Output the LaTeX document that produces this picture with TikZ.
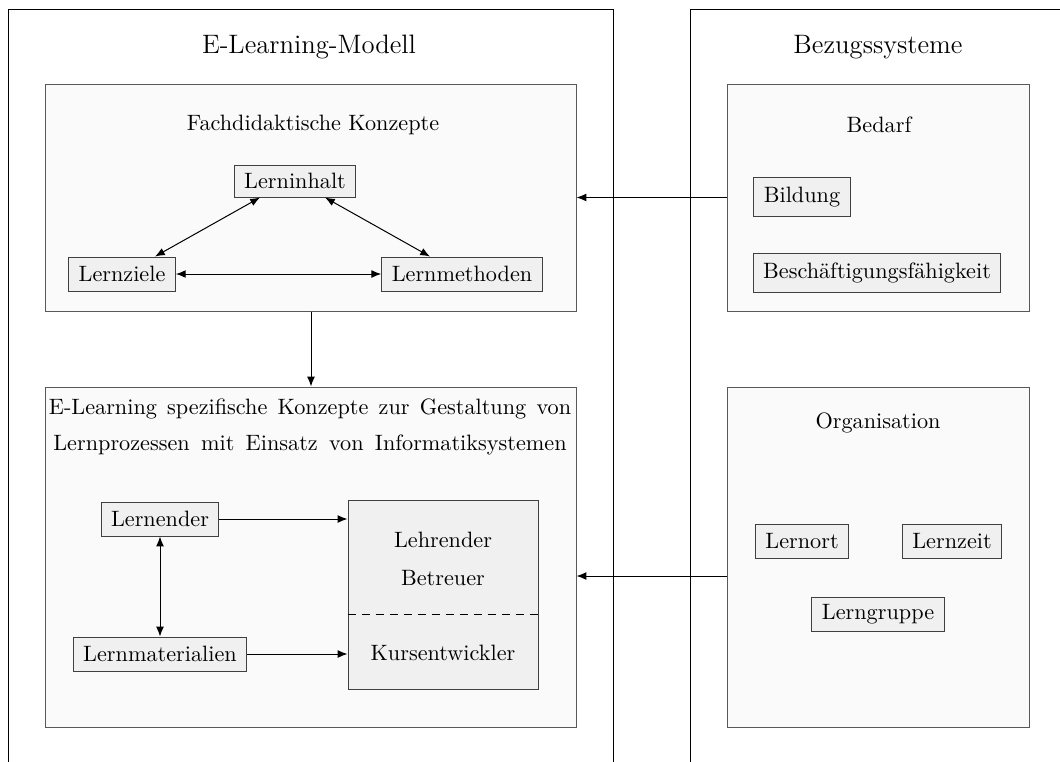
\documentclass[tikz,border=0pt]{standalone}
\usepackage{fontspec}
\usetikzlibrary{arrows.meta,calc}

\tikzset{
  frame/.style={draw=black, line width=0.45pt},
  panel/.style={draw=black!65, fill=black!2, line width=0.45pt},
  item/.style={draw=black!75, fill=black!6, line width=0.45pt,
    inner xsep=4.5pt, inner ysep=0pt, minimum height=15.3pt},
  tallitem/.style={item, minimum height=17.6pt},
  heading/.style={font=\large, inner sep=0pt},
  caption/.style={inner sep=0pt},
  arr/.style={-{Latex[length=4.4pt,width=3.5pt]}, line width=0.45pt},
  biarr/.style={{Latex[length=4.4pt,width=3.5pt]}-{Latex[length=4.4pt,width=3.5pt]}, line width=0.45pt}
}

\begin{document}
\begin{tikzpicture}[x=0.45pt, y=-0.45pt]
\useasboundingbox (0,0) rectangle (1060,761);

% two open columns
\coordinate (lcolBL) at (8,780);
\coordinate (lcolTL) at (8,9);
\coordinate (lcolTR) at (613,9);
\coordinate (lcolBR) at (613,780);
\draw[frame] (lcolBL) -- (lcolTL) -- (lcolTR) -- (lcolBR);
\coordinate (rcolBL) at (690,780);
\coordinate (rcolTL) at (690,9);
\coordinate (rcolTR) at (1080,9);
\draw[frame] (rcolBL) -- (rcolTL) -- (rcolTR);

\node[heading] (tmodel) at (309,47) {E-Learning-Modell};
\node[heading] (tbezug) at (878,47) {Bezugssysteme};

% panels
\node[panel, minimum width=238.5pt, minimum height=102.15pt] (fach) at (311,197.5) {};
\node[panel, minimum width=238.5pt, minimum height=153pt] (elearn) at (311,557) {};
\node[panel, minimum width=135.9pt, minimum height=102.15pt] (bedarf) at (878,197.5) {};
\node[panel, minimum width=135.9pt, minimum height=153pt] (org) at (878,557) {};

% Fachdidaktische Konzepte
\node[caption] (tfach) at (313,125) {Fachdidaktische Konzepte};
\node[item, minimum height=14.4pt] (inhalt) at (295,181) {Lerninhalt};
\node[item] (ziele) at (122,274) {Lernziele};
\node[item] (methoden) at (462,274) {Lernmethoden};
\draw[biarr] ($(inhalt.south)+(-35,0)$) -- ($(ziele.north)+(33,0)$);
\draw[biarr] ($(inhalt.south)+(30,0)$) -- ($(methoden.north)+(-32,0)$);
\draw[biarr] (ziele.east) -- (methoden.west);

\draw[arr] (fach.south) -- (elearn.north);

% E-Learning spezifische Konzepte
\node[caption, align=center] (telearn) at (310,427)
  {\makebox[235pt][s]{E-Learning spezifische Konzepte zur Gestaltung von}\\[4.2pt]
   \makebox[231pt][s]{Lernprozessen mit Einsatz von Informatiksystemen}};
\node[item] (lernender) at (160,519) {Lernender};
\node[item] (material) at (160,654) {Lernmaterialien};
\node[item, inner sep=0pt, minimum width=85.5pt, minimum height=85.05pt] (team) at (443,594.5) {};
\node[caption, align=center] (tlehr) at (443,559) {Lehrender\\[5.1pt]Betreuer};
\node[caption] (tkurs) at (443,653) {Kursentwickler};
\draw[dash pattern=on 3.6pt off 2.7pt, line width=0.45pt]
  ($(team.west)+(0,19.5)$) -- ($(team.east)+(0,19.5)$);
\draw[arr] (lernender.east) -- (lernender.east -| team.west);
\draw[arr] (material.east) -- (material.east -| team.west);
\draw[biarr] (lernender.south) -- (material.north);

% Bedarf
\node[caption] (tbedarf) at (879,125) {Bedarf};
\node[tallitem] (bildung) at (802,197) {Bildung};
\node[tallitem] (besch) at (877,273) {Beschäftigungsfähigkeit};
\draw[arr] (bedarf.west) -- (bedarf.west -| fach.east);

% Organisation
\node[caption] (torg) at (878,423) {Organisation};
\node[item] (ort) at (802,541) {Lernort};
\node[item] (zeit) at (952,541) {Lernzeit};
\node[item] (gruppe) at (878,614) {Lerngruppe};
\coordinate (orgout) at ($(org.west)+(0,19)$);
\draw[arr] (orgout) -- (orgout -| elearn.east);
\end{tikzpicture}
\end{document}
